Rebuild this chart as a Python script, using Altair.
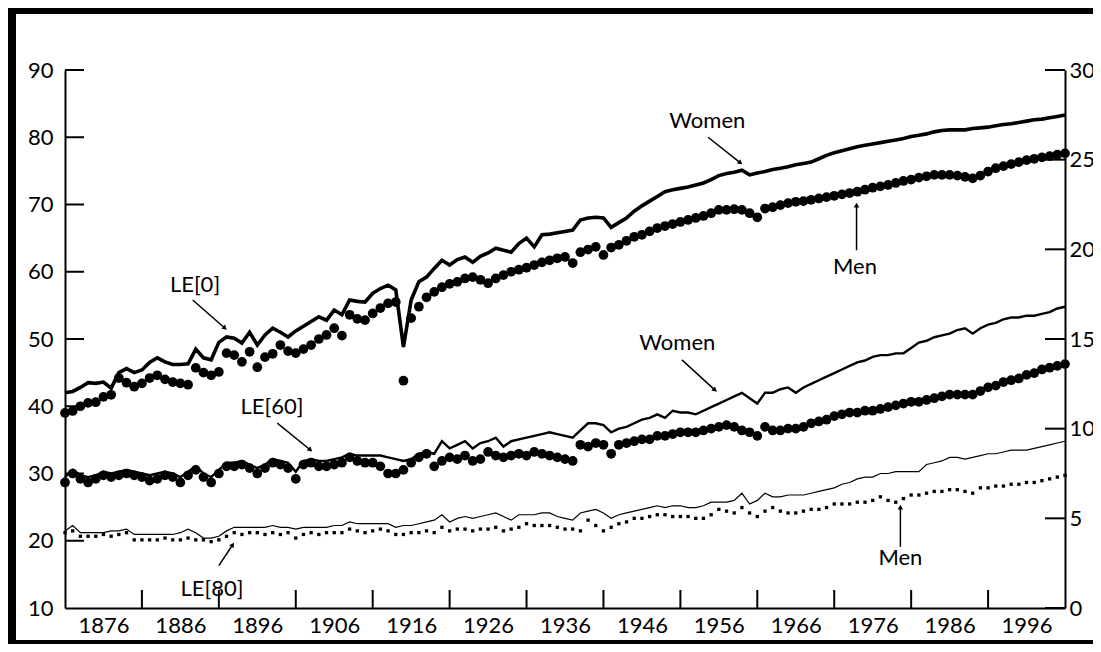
import altair as alt
import pandas as pd

YEARS = list(range(1871, 2002))

# Life expectancy at birth (left axis)
LE0_WOMEN = [
    42.0, 42.2, 42.8, 43.5, 43.4, 43.6, 42.7, 45.0, 45.6, 45.0,
    45.4, 46.5, 47.2, 46.6, 46.2, 46.2, 46.3, 48.5, 47.2, 46.9,
    49.5, 50.3, 50.1, 49.4, 51.0, 49.1, 50.6, 51.6, 51.0, 50.3,
    51.2, 51.9, 52.6, 53.3, 52.8, 54.3, 53.6, 55.8, 55.6, 55.5,
    56.8, 57.5, 58.0, 57.3, 48.8, 55.8, 58.5, 59.2, 60.5, 61.7,
    61.0, 61.8, 62.2, 61.4, 62.3, 62.8, 63.5, 63.2, 62.9, 64.2,
    65.0, 63.7, 65.5, 65.6, 65.8, 66.0, 66.2, 67.7, 68.0, 68.1,
    68.0, 66.6, 67.3, 68.0, 69.0, 69.8, 70.5, 71.2, 71.9, 72.2,
    72.4, 72.6, 72.9, 73.2, 73.7, 74.3, 74.6, 74.8, 75.1, 74.4,
    74.7, 74.9, 75.2, 75.4, 75.6, 75.9, 76.1, 76.3, 76.8, 77.3,
    77.7, 78.0, 78.3, 78.6, 78.8, 79.0, 79.2, 79.4, 79.6, 79.8,
    80.1, 80.3, 80.5, 80.8, 81.0, 81.1, 81.1, 81.1, 81.3, 81.4,
    81.5, 81.7, 81.9, 82.0, 82.2, 82.4, 82.6, 82.7, 82.9, 83.1,
    83.3,
]
LE0_MEN = [
    39.0, 39.3, 40.0, 40.5, 40.6, 41.4, 41.7, 44.2, 43.5, 42.9,
    43.4, 44.2, 44.6, 44.0, 43.6, 43.4, 43.2, 45.7, 45.0, 44.6,
    45.1, 47.9, 47.6, 46.6, 48.1, 45.8, 47.3, 47.8, 49.1, 48.2,
    47.9, 48.5, 49.1, 50.0, 50.6, 51.6, 50.5, 53.6, 53.0, 52.8,
    53.8, 54.6, 55.3, 55.5, 43.8, 53.1, 54.8, 56.2, 57.0, 57.7,
    58.2, 58.5, 59.0, 59.2, 58.8, 58.3, 59.0, 59.5, 60.0, 60.3,
    60.6, 61.0, 61.4, 61.7, 62.0, 62.2, 61.3, 62.9, 63.3, 63.7,
    62.5, 63.6, 64.0, 64.6, 65.2, 65.5, 66.0, 66.5, 66.8, 67.1,
    67.4, 67.7, 68.0, 68.3, 68.7, 69.2, 69.2, 69.3, 69.2, 68.7,
    68.1, 69.4, 69.6, 69.9, 70.2, 70.4, 70.5, 70.7, 70.9, 71.1,
    71.3, 71.5, 71.7, 71.9, 72.2, 72.5, 72.7, 72.9, 73.2, 73.5,
    73.7, 74.0, 74.2, 74.4, 74.4, 74.4, 74.3, 74.1, 73.9, 74.3,
    74.9, 75.4, 75.7, 76.0, 76.3, 76.6, 76.8, 77.0, 77.2, 77.4,
    77.6,
]

# Remaining life expectancy at 60 and 80 (right axis)
LE60_WOMEN = [
    7.3, 7.7, 7.4, 7.3, 7.4, 7.6, 7.5, 7.6, 7.7, 7.6,
    7.5, 7.4, 7.5, 7.6, 7.5, 7.3, 7.6, 7.9, 7.5, 7.3,
    7.7, 8.1, 8.1, 8.2, 8.0, 7.8, 8.0, 8.3, 8.2, 8.1,
    7.6, 8.2, 8.3, 8.2, 8.2, 8.3, 8.4, 8.6, 8.5, 8.5,
    8.5, 8.5, 8.4, 8.3, 8.2, 8.3, 8.6, 8.7, 8.6, 9.3,
    8.9, 9.1, 9.3, 8.9, 9.2, 9.3, 9.5, 9.0, 9.3, 9.4,
    9.5, 9.6, 9.7, 9.8, 9.7, 9.6, 9.5, 9.9, 10.3, 10.3,
    10.2, 9.8, 10.0, 10.1, 10.3, 10.5, 10.6, 10.8, 10.6, 11.0,
    10.9, 10.9, 10.8, 11.0, 11.2, 11.4, 11.6, 11.8, 12.0, 11.7,
    11.4, 12.0, 12.0, 12.2, 12.3, 12.0, 12.3, 12.5, 12.7, 12.9,
    13.1, 13.3, 13.5, 13.7, 13.8, 14.0, 14.1, 14.1, 14.2, 14.2,
    14.5, 14.8, 14.9, 15.1, 15.2, 15.3, 15.5, 15.6, 15.3, 15.6,
    15.8, 15.9, 16.1, 16.2, 16.2, 16.3, 16.3, 16.4, 16.5, 16.7,
    16.8,
]
LE60_MEN = [
    7.0, 7.5, 7.2, 7.0, 7.2, 7.4, 7.3, 7.4, 7.5, 7.4,
    7.3, 7.1, 7.2, 7.4, 7.3, 7.0, 7.4, 7.7, 7.3, 7.0,
    7.5, 7.9, 7.9, 8.0, 7.8, 7.5, 7.8, 8.1, 8.0, 7.8,
    7.2, 8.0, 8.1, 7.9, 7.9, 8.0, 8.1, 8.4, 8.2, 8.1,
    8.1, 7.9, 7.5, 7.5, 7.7, 8.1, 8.4, 8.6, 7.9, 8.2,
    8.4, 8.3, 8.5, 8.2, 8.3, 8.7, 8.5, 8.4, 8.5, 8.6,
    8.5, 8.7, 8.6, 8.5, 8.4, 8.3, 8.2, 9.1, 9.0, 9.2,
    9.1, 8.6, 9.1, 9.2, 9.3, 9.4, 9.4, 9.6, 9.6, 9.7,
    9.8, 9.8, 9.8, 9.9, 10.0, 10.1, 10.2, 10.1, 9.9, 9.8,
    9.6, 10.1, 9.9, 9.9, 10.0, 10.0, 10.1, 10.3, 10.4, 10.5,
    10.7, 10.8, 10.9, 10.9, 11.0, 11.0, 11.1, 11.2, 11.3, 11.4,
    11.5, 11.5, 11.6, 11.7, 11.8, 11.9, 11.9, 11.9, 11.9, 12.1,
    12.3, 12.4, 12.6, 12.7, 12.8, 13.0, 13.1, 13.3, 13.4, 13.5,
    13.6,
]
LE80_WOMEN = [
    4.3, 4.6, 4.2, 4.2, 4.2, 4.2, 4.3, 4.3, 4.4, 4.1,
    4.1, 4.1, 4.1, 4.1, 4.1, 4.2, 4.4, 4.2, 3.9, 3.9,
    4.0, 4.3, 4.5, 4.5, 4.5, 4.5, 4.5, 4.6, 4.5, 4.5,
    4.4, 4.5, 4.5, 4.5, 4.5, 4.6, 4.6, 4.8, 4.7, 4.7,
    4.7, 4.7, 4.7, 4.5, 4.6, 4.6, 4.7, 4.8, 4.9, 5.2,
    4.8, 5.0, 5.1, 5.0, 5.1, 5.2, 5.3, 5.1, 4.9, 5.2,
    5.2, 5.2, 5.3, 5.3, 5.1, 5.0, 4.9, 5.3, 5.4, 5.5,
    5.3, 5.0, 5.2, 5.3, 5.4, 5.5, 5.6, 5.7, 5.6, 5.7,
    5.7, 5.6, 5.6, 5.7, 5.9, 5.9, 5.9, 6.0, 6.4, 5.8,
    6.0, 6.4, 6.2, 6.2, 6.3, 6.3, 6.3, 6.4, 6.5, 6.6,
    6.7, 6.9, 7.0, 7.2, 7.3, 7.3, 7.5, 7.5, 7.6, 7.6,
    7.6, 7.6, 8.0, 8.1, 8.2, 8.4, 8.4, 8.3, 8.4, 8.5,
    8.6, 8.6, 8.7, 8.8, 8.8, 8.8, 8.9, 9.0, 9.1, 9.2,
    9.3,
]
LE80_MEN = [
    4.2, 4.3, 4.0, 4.0, 4.0, 4.1, 4.0, 4.1, 4.2, 3.8,
    3.8, 3.8, 3.8, 3.9, 3.8, 3.8, 3.9, 3.8, 3.8, 3.7,
    3.8, 4.0, 4.2, 4.1, 4.2, 4.2, 4.1, 4.2, 4.1, 4.2,
    3.9, 4.1, 4.2, 4.1, 4.2, 4.2, 4.2, 4.4, 4.3, 4.2,
    4.3, 4.4, 4.3, 4.1, 4.1, 4.2, 4.2, 4.3, 4.2, 4.5,
    4.3, 4.4, 4.4, 4.3, 4.4, 4.4, 4.5, 4.3, 4.4, 4.5,
    4.7, 4.6, 4.6, 4.6, 4.5, 4.4, 4.4, 4.3, 4.9, 4.6,
    4.3, 4.5, 4.7, 4.8, 5.0, 5.0, 5.1, 5.2, 5.2, 5.1,
    5.1, 5.1, 5.0, 5.0, 5.2, 5.5, 5.4, 5.3, 5.6, 5.3,
    5.1, 5.4, 5.6, 5.4, 5.3, 5.3, 5.4, 5.5, 5.5, 5.6,
    5.8, 5.8, 5.8, 5.9, 5.9, 6.0, 6.2, 6.0, 5.9, 6.1,
    6.3, 6.3, 6.4, 6.5, 6.5, 6.6, 6.6, 6.5, 6.4, 6.7,
    6.7, 6.8, 6.8, 6.9, 6.9, 7.0, 7.0, 7.1, 7.2, 7.3,
    7.4,
]

X_LABELS = [1876, 1886, 1896, 1906, 1916, 1926, 1936, 1946, 1956, 1966, 1976, 1986, 1996]
X_TICKS = [1881, 1891, 1901, 1911, 1921, 1931, 1941, 1951, 1961, 1971, 1981, 1991]
LEFT_TICKS = [10, 20, 30, 40, 50, 60, 70, 80, 90]
RIGHT_TICKS = [0, 5, 10, 15, 20, 25, 30]

# annotations (positions in year / left-axis units)
ANN_TEXT = ["Women", "Men", "LE[0]", "Women", "LE[60]", "LE[80]", "Men"]
ANN_YEAR = [1954.5, 1973.7, 1887.9, 1950.6, 1897.9, 1890.1, 1979.6]
ANN_VAL = [82.4, 60.7, 58.0, 49.4, 39.9, 12.8, 17.4]
ARR_Y0 = [1954.6, 1973.9, 1887.6, 1951.2, 1898.6, 1891.0, 1979.6]
ARR_V0 = [80.0, 63.2, 55.8, 46.9, 37.5, 16.3, 19.1]
ARR_Y1 = [1958.8, 1973.9, 1891.8, 1955.5, 1902.9, 1892.8, 1979.6]
ARR_V1 = [76.2, 69.9, 51.6, 42.4, 33.5, 19.4, 25.0]
ARR_ANGLE = [129, 0, 131, 132, 129, 34, 0]

FONT = "Lato"
W, H = 1000, 538
PAD_L, PAD_T, PAD_R, PAD_B = 57, 62, 28, 36

left_df = pd.DataFrame({
    "year": YEARS * 2,
    "v": LE0_WOMEN + LE0_MEN,
    "s": ["w"] * len(YEARS) + ["m"] * len(YEARS),
})
right_df = pd.DataFrame({
    "year": YEARS * 4,
    "v": LE60_WOMEN + LE60_MEN + LE80_WOMEN + LE80_MEN,
    "s": ["w60"] * len(YEARS) + ["m60"] * len(YEARS) + ["w80"] * len(YEARS) + ["m80"] * len(YEARS),
})
ann_df = pd.DataFrame({"t": ANN_TEXT, "year": ANN_YEAR, "v": ANN_VAL})
arr_df = pd.DataFrame({"year": ARR_Y0, "v": ARR_V0, "year2": ARR_Y1, "v2": ARR_V1, "ang": ARR_ANGLE})

x_scale = alt.Scale(domain=[1871, 2001], nice=False, zero=False)
yl_scale = alt.Scale(domain=[10, 90], nice=False, zero=False)
yr_scale = alt.Scale(domain=[0, 30], nice=False, zero=False)
x_axis = alt.Axis(values=X_LABELS, format="d", tickSize=0, labelPadding=7, domainWidth=2,
                  domainColor="black", labelFontSize=22, labelFont=FONT, labelColor="black",
                  grid=False, title=None, labelFlush=False)
yl_axis = alt.Axis(values=LEFT_TICKS, tickSize=0, labelPadding=12, domainWidth=2, domainColor="black",
                   labelFontSize=22, labelFont=FONT, labelColor="black", grid=False, title=None)
yr_axis = alt.Axis(orient="right", values=RIGHT_TICKS, tickSize=0, labelPadding=4, domainWidth=2,
                   domainColor="black", labelFontSize=22, labelFont=FONT, labelColor="black",
                   grid=False, title=None)

X = alt.X("year:Q", scale=x_scale, axis=x_axis)
YL = alt.Y("v:Q", scale=yl_scale, axis=yl_axis)
YR = alt.Y("v:Q", scale=yr_scale, axis=yr_axis)

base_l = alt.Chart(left_df)
w0 = base_l.transform_filter(alt.datum.s == "w").mark_line(color="black", strokeWidth=3.6).encode(x=X, y=YL)
m0 = base_l.transform_filter(alt.datum.s == "m").mark_circle(color="black", size=95, opacity=1).encode(x=X, y=YL)

xticks = alt.Chart(pd.DataFrame({"year": X_TICKS})).mark_rule(color="black", strokeWidth=2).encode(
    x=X, y=alt.value(H), y2=alt.value(H - 18))
lticks = alt.Chart(pd.DataFrame({"v": LEFT_TICKS[1:]})).mark_rule(color="black", strokeWidth=2).encode(
    y=YL, x=alt.value(0), x2=alt.value(19))

ann = alt.Chart(ann_df).mark_text(font=FONT, fontSize=22, color="black").encode(x=X, y=YL, text="t:N")
arrows = alt.Chart(arr_df).mark_rule(color="black", strokeWidth=1.5).encode(
    x=X, y=YL, x2=alt.X2("year2"), y2=alt.Y2("v2"))
heads = alt.Chart(arr_df).mark_point(shape="triangle-up", filled=True, color="black", size=30, opacity=1).encode(
    x=alt.X("year2:Q", scale=x_scale, axis=x_axis),
    y=alt.Y("v2:Q", scale=yl_scale, axis=yl_axis),
    angle=alt.Angle("ang:Q", scale=None))

# black picture frame (top, left, bottom edges) drawn as filled bars inside the drawing
one = pd.DataFrame({"k": [0]})
frame_top = alt.Chart(one).mark_rect(color="black").encode(
    x=alt.value(-PAD_L), x2=alt.value(W + PAD_R), y=alt.value(-PAD_T), y2=alt.value(-PAD_T + 6))
frame_left = alt.Chart(one).mark_rect(color="black").encode(
    x=alt.value(-PAD_L), x2=alt.value(-PAD_L + 8), y=alt.value(-PAD_T), y2=alt.value(H + PAD_B))
frame_bottom = alt.Chart(one).mark_rect(color="black").encode(
    x=alt.value(-PAD_L), x2=alt.value(W + PAD_R), y=alt.value(H + PAD_B - 4), y2=alt.value(H + PAD_B))

left_layer = alt.layer(w0, m0, xticks, lticks, arrows, heads, ann, frame_top, frame_left, frame_bottom)

base_r = alt.Chart(right_df)
w60 = base_r.transform_filter(alt.datum.s == "w60").mark_line(color="black", strokeWidth=2.4).encode(x=X, y=YR)
m60 = base_r.transform_filter(alt.datum.s == "m60").mark_circle(color="black", size=95, opacity=1).encode(x=X, y=YR)
w80 = base_r.transform_filter(alt.datum.s == "w80").mark_line(color="black", strokeWidth=1.2).encode(x=X, y=YR)
m80 = base_r.transform_filter(alt.datum.s == "m80").mark_square(color="black", size=11, opacity=1).encode(x=X, y=YR)
rticks = alt.Chart(pd.DataFrame({"v": RIGHT_TICKS})).mark_rule(color="black", strokeWidth=2).encode(
    y=YR, x=alt.value(W - 20), x2=alt.value(W))

right_layer = alt.layer(w60, m60, w80, m80, rticks)

chart = alt.layer(left_layer, right_layer).resolve_scale(y="independent").properties(
    width=W, height=H,
    padding={"left": PAD_L, "top": PAD_T, "right": PAD_R, "bottom": PAD_B},
    autosize=alt.AutoSizeParams(type="none"),
    background="white",
).configure_view(stroke=None)

chart.save("out.html", embed_options={"renderer": "svg", "actions": False})
